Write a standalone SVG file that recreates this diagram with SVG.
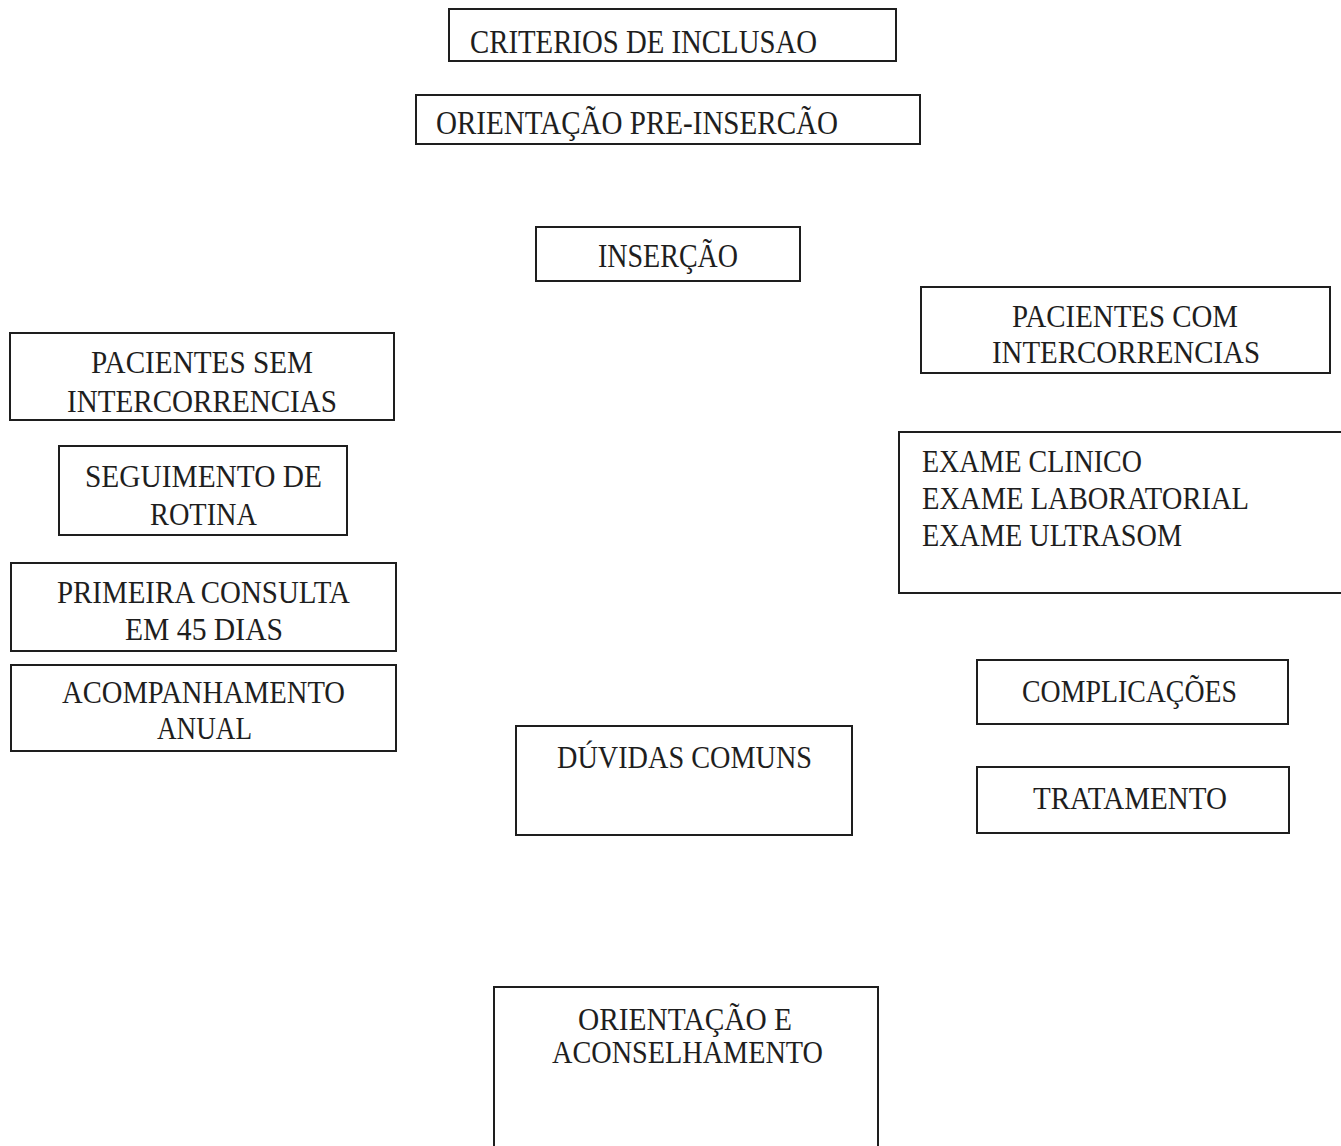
<svg xmlns="http://www.w3.org/2000/svg" width="1341" height="1146" viewBox="0 0 1341 1146">
<style>
.box{fill:none;stroke:#1e1e1e;stroke-width:2}
.t{font-family:"Liberation Serif","DejaVu Serif",serif;font-size:31px;fill:#1e1e1e}
.big{font-size:33px}
</style>
<rect width="1341" height="1146" fill="#ffffff"/>
<g id="connectors"></g>
<g id="criterios">
<rect class="box" x="449" y="9" width="447" height="52"/>
<text class="t big" x="470" y="53" textLength="347" lengthAdjust="spacingAndGlyphs">CRITERIOS DE INCLUSAO</text>
</g>
<g id="orientacao-pre">
<rect class="box" x="416" y="95" width="504" height="49"/>
<text class="t big" x="436" y="134" textLength="402" lengthAdjust="spacingAndGlyphs">ORIENTAÇÃO PRE-INSERCÃO</text>
</g>
<g id="insercao">
<rect class="box" x="536" y="227" width="264" height="54"/>
<text class="t big" x="598" y="267" textLength="140" lengthAdjust="spacingAndGlyphs">INSERÇÃO</text>
</g>
<g id="pacientes-sem">
<rect class="box" x="10" y="333" width="384" height="87"/>
<text class="t" x="91" y="373" textLength="222" lengthAdjust="spacingAndGlyphs">PACIENTES SEM</text>
<text class="t" x="67" y="412" textLength="270" lengthAdjust="spacingAndGlyphs">INTERCORRENCIAS</text>
</g>
<g id="seguimento">
<rect class="box" x="59" y="446" width="288" height="89"/>
<text class="t" x="85" y="487" textLength="237" lengthAdjust="spacingAndGlyphs">SEGUIMENTO DE</text>
<text class="t" x="150" y="525" textLength="107" lengthAdjust="spacingAndGlyphs">ROTINA</text>
</g>
<g id="primeira-consulta">
<rect class="box" x="11" y="563" width="385" height="88"/>
<text class="t" x="57" y="603" textLength="293" lengthAdjust="spacingAndGlyphs">PRIMEIRA CONSULTA</text>
<text class="t" x="125" y="640" textLength="158" lengthAdjust="spacingAndGlyphs">EM 45 DIAS</text>
</g>
<g id="acompanhamento">
<rect class="box" x="11" y="665" width="385" height="86"/>
<text class="t" x="62" y="703" textLength="283" lengthAdjust="spacingAndGlyphs">ACOMPANHAMENTO</text>
<text class="t" x="157" y="739" textLength="95" lengthAdjust="spacingAndGlyphs">ANUAL</text>
</g>
<g id="pacientes-com">
<rect class="box" x="921" y="287" width="409" height="86"/>
<text class="t" x="1012" y="327" textLength="226" lengthAdjust="spacingAndGlyphs">PACIENTES COM</text>
<text class="t" x="992" y="363" textLength="268" lengthAdjust="spacingAndGlyphs">INTERCORRENCIAS</text>
</g>
<g id="exames">
<rect class="box" x="899" y="432" width="450" height="161"/>
<text class="t" x="922" y="472" textLength="220" lengthAdjust="spacingAndGlyphs">EXAME CLINICO</text>
<text class="t" x="922" y="509" textLength="327" lengthAdjust="spacingAndGlyphs">EXAME LABORATORIAL</text>
<text class="t" x="922" y="546" textLength="260" lengthAdjust="spacingAndGlyphs">EXAME ULTRASOM</text>
</g>
<g id="complicacoes">
<rect class="box" x="977" y="660" width="311" height="64"/>
<text class="t" x="1022" y="702" textLength="215" lengthAdjust="spacingAndGlyphs">COMPLICAÇÕES</text>
</g>
<g id="tratamento">
<rect class="box" x="977" y="767" width="312" height="66"/>
<text class="t" x="1033" y="809" textLength="194" lengthAdjust="spacingAndGlyphs">TRATAMENTO</text>
</g>
<g id="duvidas">
<rect class="box" x="516" y="726" width="336" height="109"/>
<text class="t" x="557" y="768" textLength="255" lengthAdjust="spacingAndGlyphs">DÚVIDAS COMUNS</text>
</g>
<g id="orientacao-aconselhamento">
<rect class="box" x="494" y="987" width="384" height="170"/>
<text class="t" x="578" y="1030" textLength="214" lengthAdjust="spacingAndGlyphs">ORIENTAÇÃO E</text>
<text class="t" x="552" y="1063" textLength="271" lengthAdjust="spacingAndGlyphs">ACONSELHAMENTO</text>
</g>
</svg>
